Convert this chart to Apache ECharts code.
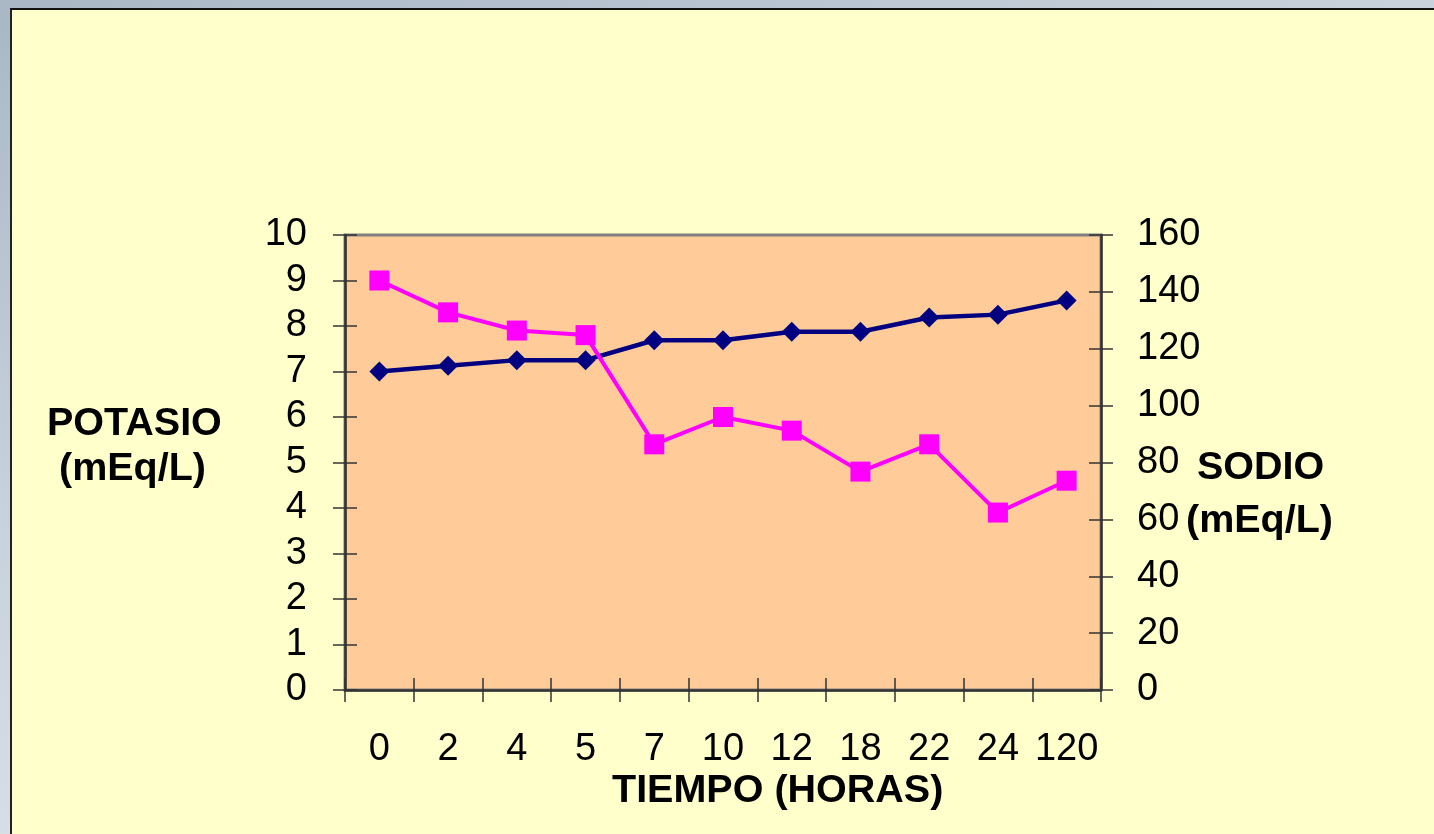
<!DOCTYPE html>
<html>
<head>
<meta charset="utf-8">
<title>Potasio y Sodio</title>
<script src="https://cdn.jsdelivr.net/npm/echarts@6/dist/echarts.min.js"></script>
<style>
  html, body {
    margin: 0;
    padding: 0;
    width: 1434px;
    height: 834px;
    overflow: hidden;
    background: linear-gradient(160deg, #a9b7c5 0%, #c9d3dd 40%, #eef0f6 100%);
  }
  .panel {
    position: absolute;
    left: 10px;
    top: 8px;
    right: 0;
    bottom: 0;
    background: #ffffcc;
    border-top: 2px solid #111;
    border-left: 2px solid #222;
  }
  #chart {
    position: absolute;
    left: 0;
    top: 0;
    width: 1434px;
    height: 834px;
  }
</style>
</head>
<body>
<div class="panel"></div>
<div id="chart"></div>
<script>
// tiempo (horas)
const horas = ['0', '2', '4', '5', '7', '10', '12', '18', '22', '24', '120']
// potasio mEq/L (eje izquierdo)
const potasio = [9.0, 8.3, 7.9, 7.8, 5.4, 6.0, 5.7, 4.8, 5.4, 3.9, 4.6]
// sodio mEq/L (eje derecho)
const sodio = [112, 114, 116, 116, 123, 123, 126, 126, 131, 132, 137]

const font = '"Liberation Sans", Arial, sans-serif'
const axisDark = '#333'

const chart = echarts.init(document.getElementById('chart'))

const tickOut = { show: true, inside: false, length: 12, lineStyle: { color: axisDark, width: 1.5 } }
const tickIn = { show: true, inside: true, length: 12, lineStyle: { color: axisDark, width: 1.5 } }
const labelStyle = { color: '#000', fontSize: 38, fontFamily: font }

function valueAxis(pos, max, interval, main) {
  return {
    type: 'value',
    position: pos,
    min: 0,
    max: max,
    interval: interval,
    splitLine: { show: false },
    axisLine: { show: main, lineStyle: { color: axisDark, width: 2.5 } },
    axisTick: main ? tickOut : tickIn,
    axisLabel: main ? { ...labelStyle, margin: pos === 'left' ? 38 : 36 } : { show: false },
  }
}

function catAxis(main) {
  return {
    type: 'category',
    position: 'bottom',
    data: horas,
    boundaryGap: true,
    axisLine: { show: main, lineStyle: { color: axisDark, width: 2.5 } },
    axisTick: main ? { ...tickOut, interval: 0 } : { ...tickIn, interval: 0 },
    axisLabel: main ? { ...labelStyle, margin: 41, interval: 0 } : { show: false },
    splitLine: { show: false },
  }
}

const titleStyle = { fill: '#000', fontSize: 39.5, fontWeight: 'bold', fontFamily: font }

chart.setOption({
  animation: false,
  backgroundColor: 'transparent',
  grid: {
    left: 345,
    right: 333,
    top: 235,
    bottom: 144,
    show: true,
    backgroundColor: '#ffcc99',
    borderColor: '#808080',
    borderWidth: 3,
  },
  xAxis: [catAxis(true), catAxis(false)],
  yAxis: [
    valueAxis('left', 10, 1, true),
    valueAxis('right', 160, 20, true),
    valueAxis('left', 10, 1, false),
    valueAxis('right', 160, 20, false),
  ],
  series: [
    {
      name: 'Sodio',
      type: 'line',
      yAxisIndex: 1,
      data: sodio,
      symbol: 'diamond',
      symbolSize: 20,
      lineStyle: { color: '#000080', width: 4.5 },
      itemStyle: { color: '#000080' },
    },
    {
      name: 'Potasio',
      type: 'line',
      yAxisIndex: 0,
      data: potasio,
      symbol: 'rect',
      symbolSize: 20,
      lineStyle: { color: '#ff00ff', width: 4 },
      itemStyle: { color: '#ff00ff' },
    },
  ],
  graphic: [
    { type: 'text', left: 47, top: 404, style: { ...titleStyle, text: 'POTASIO' } },
    { type: 'text', left: 59, top: 449, style: { ...titleStyle, text: '(mEq/L)' } },
    { type: 'text', left: 1197, top: 448, style: { ...titleStyle, text: 'SODIO' } },
    { type: 'text', left: 1186, top: 501, style: { ...titleStyle, text: '(mEq/L)' } },
    { type: 'text', left: 612, top: 771, style: { ...titleStyle, text: 'TIEMPO (HORAS)' } },
  ],
})
</script>
</body>
</html>
